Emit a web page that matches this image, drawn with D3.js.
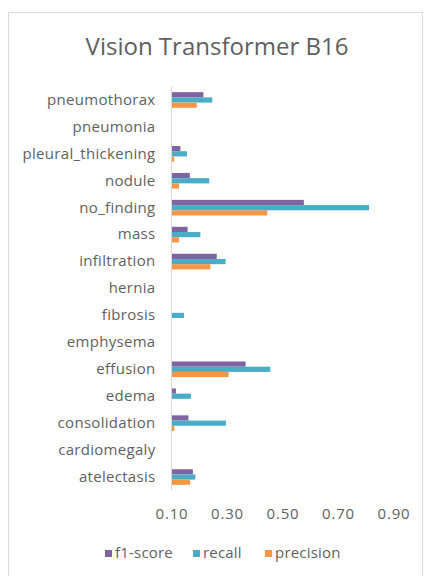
<!DOCTYPE html>
<html>
<head>
<meta charset="utf-8">
<script src="https://cdn.jsdelivr.net/npm/d3@7"></script>
<style>
  html, body { margin: 0; padding: 0; background: #ffffff; }
  svg { display: block; }
  text { font-family: "Open Sans", sans-serif; fill: #5f5f5f; }
</style>
</head>
<body>
<div id="chart"></div>
<script>
// Per-class scores for the ViT-B/16 classifier (top-to-bottom display order)
const categories = ["pneumothorax", "pneumonia", "pleural_thickening", "nodule", "no_finding",
  "mass", "infiltration", "hernia", "fibrosis", "emphysema", "effusion", "edema",
  "consolidation", "cardiomegaly", "atelectasis"];
const f1Score   = [0.215, 0, 0.132, 0.166, 0.577, 0.158, 0.263, 0, 0, 0, 0.367, 0.116, 0.161, 0, 0.177];
const recall    = [0.247, 0, 0.156, 0.236, 0.812, 0.204, 0.295, 0, 0.145, 0, 0.456, 0.170, 0.296, 0, 0.186];
const precision = [0.191, 0, 0.110, 0.127, 0.445, 0.127, 0.240, 0, 0, 0, 0.306, 0, 0.110, 0, 0.167];
const seriesNames = ["f1-score", "recall", "precision"];
const seriesColors = ["#8064A2", "#4BACC6", "#F79646"];
const tickValues = [0.10, 0.30, 0.50, 0.70, 0.90];

const W = 428, H = 576;
const margin = { top: 86.5, left: 171.5, bottom: 490.5 };
const xMin = 0.1, pxPerUnit = 277.5;
const xMax = xMin + (420 - margin.left) / pxPerUnit;
const labelFont = "15px";

const svg = d3.select("#chart").append("svg").attr("width", W).attr("height", H);

// outer chart frame
svg.append("rect")
  .attr("x", 8.5).attr("y", 12.5).attr("width", 414).attr("height", 580)
  .attr("fill", "#fff").attr("stroke", "#d9d9d9").attr("stroke-width", 1);

svg.append("text")
  .attr("x", 217).attr("y", 55)
  .attr("text-anchor", "middle")
  .style("font-size", "24px")
  .text("Vision Transformer B16");

const x = d3.scaleLinear().domain([xMin, xMax]).range([margin.left, 420]);
const y = d3.scaleBand().domain(categories)
  .range([margin.top, margin.bottom]).paddingInner(0.42).paddingOuter(0.21);
const ySub = d3.scaleBand().domain(seriesNames).range([0, y.bandwidth()]);

const rows = categories.map((c, i) => ({ cat: c, vals: [f1Score[i], recall[i], precision[i]] }));

const g = svg.append("g");
g.selectAll("g.row").data(rows).join("g")
  .attr("class", "row")
  .attr("transform", d => `translate(0,${y(d.cat)})`)
  .selectAll("rect")
  .data(d => d.vals.map((v, k) => ({ v, k })))
  .join("rect")
  .attr("x", x(xMin))
  .attr("y", d => ySub(seriesNames[d.k]))
  .attr("height", ySub.bandwidth())
  .attr("width", d => Math.max(0, x(d.v) - x(xMin)))
  .attr("fill", d => seriesColors[d.k]);

// category axis line
svg.append("line")
  .attr("x1", x(xMin)).attr("x2", x(xMin))
  .attr("y1", margin.top).attr("y2", margin.bottom)
  .attr("stroke", "#d9d9d9");

// category labels
const yAxis = d3.axisLeft(y).tickSize(0).tickPadding(16);
const ya = svg.append("g").attr("transform", `translate(${x(xMin)},0)`).call(yAxis);
ya.select(".domain").remove();
ya.selectAll("text").style("font-size", labelFont).style("fill", "#5f5f5f")
  .style("letter-spacing", "0.3px")
  .style("font-family", "'Open Sans', sans-serif");

// value axis labels
const xAxis = d3.axisBottom(x).tickValues(tickValues).tickFormat(d3.format(".2f")).tickSize(0).tickPadding(18);
const xa = svg.append("g").attr("transform", `translate(0,${margin.bottom})`).call(xAxis);
xa.select(".domain").remove();
xa.selectAll("text").style("font-size", labelFont).style("fill", "#5f5f5f")
  .style("letter-spacing", "0.8px")
  .style("font-family", "'Open Sans', sans-serif");

// legend
const legendX = [105, 193, 265];
const lg = svg.append("g");
seriesNames.forEach((name, k) => {
  lg.append("rect").attr("x", legendX[k]).attr("y", 550).attr("width", 7).attr("height", 7)
    .attr("fill", seriesColors[k]);
  lg.append("text").attr("x", legendX[k] + 10).attr("y", 558)
    .style("font-size", labelFont).style("letter-spacing", "0.2px").text(name);
});
</script>
</body>
</html>
